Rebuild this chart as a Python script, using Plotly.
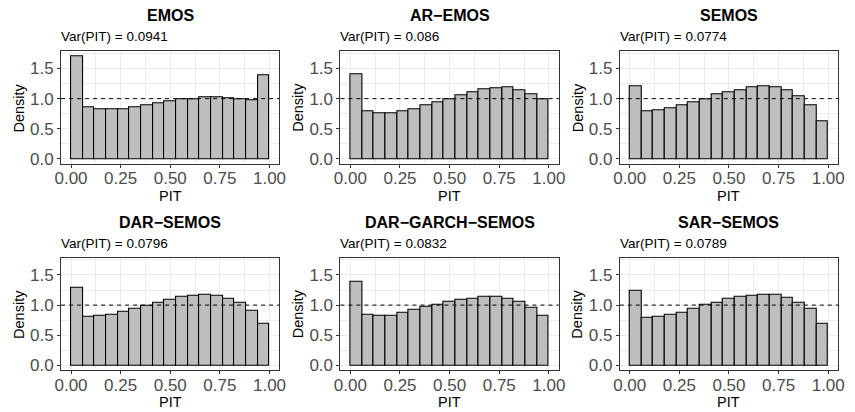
import plotly.graph_objects as go

# ---------------- data ----------------
models = ["EMOS", "AR−EMOS", "SEMOS", "DAR−SEMOS", "DAR−GARCH−SEMOS", "SAR−SEMOS"]
var_pit = ["0.0941", "0.086", "0.0774", "0.0796", "0.0832", "0.0789"]
n_bins = 17

emos = [1.70, 0.86, 0.82, 0.82, 0.83, 0.855, 0.895, 0.915, 0.95, 0.99, 0.995, 1.015, 1.02, 1.005, 0.985, 0.97, 1.385]
ar_emos = [1.395, 0.795, 0.75, 0.75, 0.795, 0.83, 0.885, 0.935, 0.995, 1.05, 1.10, 1.15, 1.17, 1.18, 1.13, 1.065, 0.99]
semos = [1.20, 0.79, 0.805, 0.84, 0.895, 0.945, 0.995, 1.065, 1.10, 1.14, 1.19, 1.20, 1.18, 1.135, 1.04, 0.885, 0.63]
dar_semos = [1.28, 0.805, 0.82, 0.845, 0.885, 0.945, 0.995, 1.035, 1.095, 1.13, 1.15, 1.165, 1.15, 1.11, 1.035, 0.905, 0.69]
dar_garch_semos = [1.39, 0.845, 0.82, 0.83, 0.87, 0.92, 0.965, 1.005, 1.05, 1.085, 1.11, 1.13, 1.13, 1.105, 1.05, 0.95, 0.82]
sar_semos = [1.24, 0.79, 0.81, 0.835, 0.875, 0.945, 1.0, 1.045, 1.10, 1.14, 1.155, 1.175, 1.165, 1.12, 1.045, 0.93, 0.69]

series = [emos, ar_emos, semos, dar_semos, dar_garch_semos, sar_semos]

x_ticks = [0.0, 0.25, 0.5, 0.75, 1.0]
x_tick_labels = ["0.00", "0.25", "0.50", "0.75", "1.00"]
y_ticks = [0.0, 0.5, 1.0, 1.5]
y_tick_labels = ["0.0", "0.5", "1.0", "1.5"]

# ---------------- layout geometry ----------------
W, H = 855, 412
col_px = [(55, 277), (339, 561), (623, 845)]
row_px = [(52, 166), (261, 375)]

def px_x(p):
    return p / W

def px_y(p):
    return 1 - p / H

bin_w = 1.0 / n_bins
centers = [(i + 0.5) * bin_w for i in range(n_bins)]
ymax = max(max(s) for s in series)
yrange = [-0.05 * ymax, 1.05 * ymax]

FONT = "Liberation Sans, Arial, Helvetica, sans-serif"

fig = go.Figure()
annotations = []
shapes = []

for k, (name, vals) in enumerate(zip(models, series)):
    r, c = divmod(k, 3)
    idx = "" if k == 0 else str(k + 1)
    xa, ya = "x" + idx, "y" + idx
    fig.add_trace(go.Bar(
        x=centers, y=vals, width=bin_w,
        marker=dict(color="#BEBEBE", line=dict(color="black", width=1.1)),
        xaxis=xa, yaxis=ya, showlegend=False, hoverinfo="x+y",
    ))
    x0, x1 = col_px[c]
    y0, y1 = row_px[r]
    common = dict(
        showline=True, mirror=True, linecolor="#333333", linewidth=1,
        ticks="outside", ticklen=3, tickcolor="#333333", tickwidth=1,
        showgrid=True, gridcolor="#EBEBEB", gridwidth=1,
        zeroline=False, tickfont=dict(family=FONT, size=17, color="#4D4D4D"),
    )
    fig.layout["xaxis" + idx] = dict(
        common, domain=[px_x(x0), px_x(x1)], range=[-0.05, 1.05],
        tickvals=x_ticks, ticktext=x_tick_labels, anchor=ya,
        ticklabelstandoff=-4,
        minor=dict(tickvals=[0.125, 0.375, 0.625, 0.875], showgrid=True,
                   gridcolor="#EBEBEB", gridwidth=0.5, ticks=""),
    )
    fig.layout["yaxis" + idx] = dict(
        common, domain=[px_y(y1), px_y(y0)], range=yrange,
        tickvals=y_ticks, ticktext=y_tick_labels, anchor=xa,
        minor=dict(tickvals=[0.25, 0.75, 1.25, 1.75], showgrid=True,
                   gridcolor="#EBEBEB", gridwidth=0.5, ticks=""),
    )
    shapes.append(dict(type="line", xref=xa + " domain", yref=ya,
                       x0=0, x1=1, y0=1, y1=1, layer="above",
                       line=dict(color="black", width=1, dash="4px,4px")))
    cx = px_x((x0 + x1) / 2)
    top = row_px[r][0]
    annotations.append(dict(text="<b>%s</b>" % name, x=cx, y=px_y(top - 36),
                            xref="paper", yref="paper", showarrow=False,
                            xanchor="center", yanchor="middle",
                            font=dict(family=FONT, size=16, color="black")))
    annotations.append(dict(text="Var(PIT) = %s" % var_pit[k], x=px_x(x0 - 2), y=px_y(top - 15),
                            xref="paper", yref="paper", showarrow=False,
                            xanchor="left", yanchor="middle",
                            font=dict(family=FONT, size=13.5, color="black")))
    annotations.append(dict(text="PIT", x=cx, y=px_y(row_px[r][1] + 32),
                            xref="paper", yref="paper", showarrow=False,
                            xanchor="center", yanchor="middle",
                            font=dict(family=FONT, size=14.5, color="black")))
    annotations.append(dict(text="Density", x=px_x(x0 - 43), y=px_y((y0 + y1) / 2),
                            xref="paper", yref="paper", showarrow=False,
                            xanchor="center", yanchor="middle", textangle=-90,
                            font=dict(family=FONT, size=14.5, color="black")))

fig.update_layout(
    width=W, height=H, margin=dict(l=0, r=0, t=0, b=0),
    paper_bgcolor="white", plot_bgcolor="white",
    annotations=annotations, shapes=shapes, bargap=0,
)

fig.write_html("out.html")
